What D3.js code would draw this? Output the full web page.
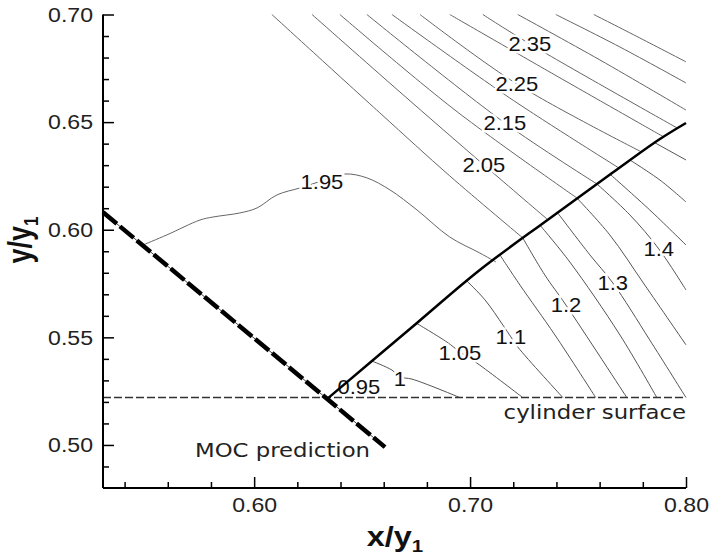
<!DOCTYPE html>
<html>
<head>
  <script src="https://d3js.org/d3.v7.min.js"></script>
  <style>
    body { margin: 0; background: #fff; }
    .contour { fill: none; stroke: #555; stroke-width: 1; }
    .axis .domain { stroke: #000; stroke-width: 2; }
    .axis line { stroke: #000; stroke-width: 1.5; }
    .axis text { font-family: "Liberation Sans", Arial, sans-serif; font-size: 21px; fill: #222; }
  </style>
</head>
<body>
  <svg id="p" width="709" height="555"></svg>
  <script>
    // axes
    const xDomain = [0.53, 0.80];
    const yDomain = [0.48, 0.70];
    const xMajor = [0.60, 0.70, 0.80];
    const xMinor = [0.54, 0.56, 0.58, 0.62, 0.64, 0.66, 0.68, 0.72, 0.74, 0.76, 0.78];
    const yMajor = [0.50, 0.55, 0.60, 0.65, 0.70];
    const yMinor = [0.49, 0.51, 0.52, 0.53, 0.54, 0.56, 0.57, 0.58, 0.59,
                    0.61, 0.62, 0.63, 0.64, 0.66, 0.67, 0.68, 0.69];

    // reference lines
    const cylinderY = 0.522;
    const mocLine = [[0.53, 0.6081], [0.6606, 0.4990]];
    const shockLine = [[0.6345, 0.522], [0.6754, 0.5567], [0.7045, 0.5813],
                       [0.7365, 0.6050], [0.7656, 0.6262], [0.7874, 0.6418], [0.80, 0.6496]];

    // contours in front of the shock
    const upstream = [
      [[0.5485, 0.5929], [0.5596, 0.5976], [0.5749, 0.6045], [0.5809, 0.6059], [0.5934, 0.6078],
       [0.6013, 0.6101], [0.6106, 0.6162], [0.6212, 0.6194], [0.6314, 0.6227], [0.6420, 0.6259],
       [0.6522, 0.6241], [0.6629, 0.6185], [0.6754, 0.6092], [0.6906, 0.5966], [0.7045, 0.5892],
       [0.7120, 0.5850]],
      [[0.6082, 0.70], [0.6582, 0.6543], [0.6906, 0.6250], [0.7244, 0.5962]],
      [[0.6268, 0.70], [0.6675, 0.6640], [0.7064, 0.6301], [0.7356, 0.6050]],
      [[0.6397, 0.70], [0.6930, 0.6556], [0.7494, 0.6148]],
      [[0.6522, 0.70], [0.7161, 0.6496], [0.7587, 0.6213]],
      [[0.6638, 0.70], [0.7184, 0.6612], [0.7689, 0.6287]],
      [[0.6768, 0.70], [0.7217, 0.6677], [0.7795, 0.6361]],
      [[0.6906, 0.70], [0.7393, 0.6719], [0.7897, 0.6431]],
      [[0.7059, 0.70], [0.7277, 0.6863], [0.7962, 0.6471]],
      [[0.7221, 0.70], [0.7601, 0.6789], [0.80, 0.6556]],
      [[0.7397, 0.70], [0.7694, 0.6849], [0.80, 0.6682]],
      [[0.7573, 0.70], [0.7786, 0.6891], [0.80, 0.6780]]
    ];

    // contours between the shock and the cylinder
    const downstream = [
      [[0.6545, 0.5390], [0.6638, 0.5348], [0.6675, 0.5316], [0.6731, 0.5306], [0.6953, 0.522]],
      [[0.6749, 0.5567], [0.6893, 0.5478], [0.6953, 0.5432], [0.7031, 0.5381], [0.7244, 0.522]],
      [[0.6985, 0.5762], [0.7069, 0.5674], [0.7152, 0.5557], [0.7189, 0.5502], [0.7221, 0.5455], [0.7430, 0.522]],
      [[0.7138, 0.5883], [0.7231, 0.5743], [0.7393, 0.5511], [0.7582, 0.522]],
      [[0.7244, 0.5962], [0.7346, 0.5790], [0.7444, 0.5650], [0.7726, 0.522]],
      [[0.7323, 0.6022], [0.7462, 0.5850], [0.7694, 0.5511], [0.7865, 0.522]],
      [[0.7402, 0.6083], [0.7555, 0.5883], [0.7661, 0.5753], [0.7832, 0.5488], [0.80, 0.522]],
      [[0.7494, 0.6148], [0.7647, 0.5976], [0.7809, 0.5743], [0.80, 0.5465]],
      [[0.7587, 0.6213], [0.7740, 0.6069], [0.7874, 0.5911], [0.80, 0.5720]],
      [[0.7647, 0.6259], [0.7832, 0.6092], [0.80, 0.5929]],
      [[0.7740, 0.6324], [0.7879, 0.6231], [0.80, 0.6129]],
      [[0.7856, 0.6404], [0.80, 0.6324]]
    ];

    const labelText = ["2.35", "2.25", "2.15", "2.05", "1.95", "0.95", "1", "1.05", "1.1", "1.2", "1.3", "1.4"];
    const labelX = [0.7277, 0.7217, 0.7161, 0.7064, 0.6314, 0.6485, 0.6675, 0.6953, 0.7189, 0.7444, 0.7661, 0.7874];
    const labelY = [0.6863, 0.6677, 0.6496, 0.6301, 0.6222, 0.5269, 0.5306, 0.5427, 0.5502, 0.5650, 0.5753, 0.5911];

    const svg = d3.select("svg#p");
    const sx = 1.1;
    const x = d3.scaleLinear().domain(xDomain).range([103, 686]);
    const y = d3.scaleLinear().domain(yDomain).range([488, 14.5]);

    const line = d3.line().x(d => x(d[0])).y(d => y(d[1]));
    const smooth = d3.line().x(d => x(d[0])).y(d => y(d[1])).curve(d3.curveCatmullRom);

    const plot = svg.append("g");

    plot.selectAll("path.up").data(upstream).join("path")
        .attr("class", "contour up").attr("d", smooth).style("stroke", "#666");
    plot.selectAll("path.down").data(downstream).join("path")
        .attr("class", "contour down").attr("d", smooth);

    // contour labels (white halo breaks the line under them)
    plot.selectAll("text.lab").data(labelText).join("text")
        .attr("class", "lab")
        .attr("transform", (d, i) => `translate(${x(labelX[i])},${y(labelY[i])}) scale(${sx},1)`)
        .attr("text-anchor", "middle").attr("dominant-baseline", "central")
        .style("font-family", "Liberation Sans, Arial, sans-serif").style("font-size", "20px")
        .style("fill", "#111")
        .style("stroke", "#fff").style("stroke-width", 5).style("paint-order", "stroke")
        .text(d => d);

    // cylinder surface
    plot.append("path")
        .attr("d", line([[xDomain[0], cylinderY], [xDomain[1], cylinderY]]))
        .attr("fill", "none").attr("stroke", "#333").attr("stroke-width", 1.5)
        .attr("stroke-dasharray", "8,3");

    // shock
    plot.append("path").attr("d", smooth(shockLine))
        .attr("fill", "none").attr("stroke", "#000").attr("stroke-width", 2.5);

    // MOC prediction
    plot.append("path").attr("d", line(mocLine))
        .attr("fill", "none").attr("stroke", "#444").attr("stroke-width", 1);
    plot.append("path").attr("d", line(mocLine))
        .attr("fill", "none").attr("stroke", "#000").attr("stroke-width", 4.5)
        .attr("stroke-dasharray", "18,4");

    plot.append("text")
        .attr("transform", `translate(${x(0.5726)},${y(0.4972)}) scale(1.2,1)`)
        .attr("dominant-baseline", "central")
        .style("font-family", "DejaVu Sans").style("font-size", "19px").style("fill", "#222")
        .text("MOC prediction");
    plot.append("text")
        .attr("transform", `translate(${x(0.80)},${y(0.5149)}) scale(1.2,1)`)
        .attr("text-anchor", "end").attr("dominant-baseline", "central")
        .style("font-family", "DejaVu Sans").style("font-size", "19px").style("fill", "#222")
        .text("cylinder surface");

    // axes, ticks point inward
    const gx = svg.append("g").attr("class", "axis").attr("transform", "translate(0,488)");
    gx.call(d3.axisBottom(x).tickValues(xMinor).tickSize(-6).tickSizeOuter(0).tickFormat(""));
    gx.append("g").call(d3.axisBottom(x).tickValues(xMajor).tickSize(-11).tickSizeOuter(0)
        .tickPadding(9).tickFormat(d3.format(".2f")))
      .call(g => g.select(".domain").remove());
    gx.selectAll("text").attr("transform", `scale(${sx},1)`);

    const gy = svg.append("g").attr("class", "axis").attr("transform", "translate(103,0)");
    gy.call(d3.axisLeft(y).tickValues(yMinor).tickSize(-6).tickSizeOuter(0).tickFormat(""));
    gy.append("g").call(d3.axisLeft(y).tickValues(yMajor).tickSize(-11).tickSizeOuter(0)
        .tickPadding(10).tickFormat(d3.format(".2f")))
      .call(g => g.select(".domain").remove());
    gy.selectAll("text").each(function() {
      const t = d3.select(this);
      t.attr("transform", `translate(${+t.attr("x")},0) scale(${sx},1)`).attr("x", 0);
    });
    gy.select(".domain").attr("d", `M0,${y(0.48)}V${y(0.70)}`);
    gx.select(".domain").attr("d", `M${x(0.53)},0H${x(0.80)}`);

    // axis titles
    const xt = svg.append("text")
        .attr("transform", "translate(395,546) scale(1.2,1)")
        .attr("text-anchor", "middle")
        .style("font-family", "Liberation Sans, Arial, sans-serif").style("font-weight", "bold")
        .style("font-size", "27px").style("fill", "#111");
    xt.append("tspan").text("x/y");
    xt.append("tspan").attr("dy", 6).style("font-size", "17px").text("1");

    const yt = svg.append("text")
        .attr("transform", "translate(31,240) rotate(-90) scale(1,1.2)")
        .attr("text-anchor", "middle")
        .style("font-family", "Liberation Sans, Arial, sans-serif").style("font-weight", "bold")
        .style("font-size", "27px").style("fill", "#111");
    yt.append("tspan").text("y/y");
    yt.append("tspan").attr("dy", 6).style("font-size", "17px").text("1");
  </script>
</body>
</html>
